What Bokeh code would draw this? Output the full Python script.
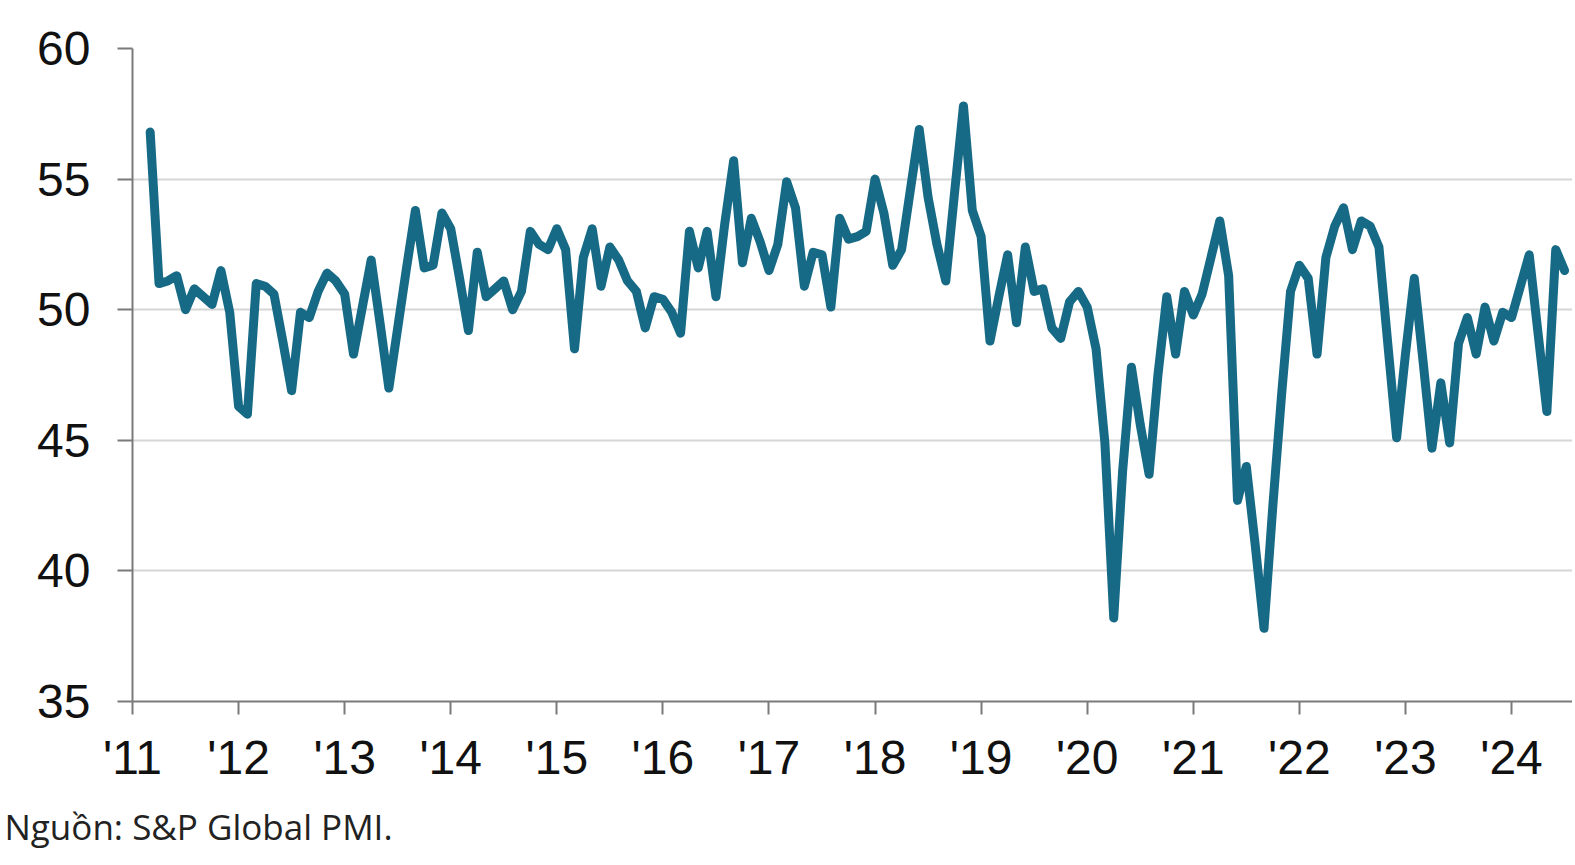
import pandas as pd
from bokeh.plotting import figure
from bokeh.models import FixedTicker, Range1d, Title
from bokeh.embed import file_html
from bokeh.resources import INLINE

# ---- data (monthly index, Mar 2011 .. Jul 2024) ----
start_month = "2011-03"
end_month = "2024-07"
pmi = [
    # 2011 (Mar-Dec)
    56.8, 51.0, 51.1, 51.3, 50.0, 50.8, 50.5, 50.2, 51.5, 49.9,
    # 2012
    46.3, 46.0, 51.0, 50.9, 50.6, 48.8, 46.9, 49.9, 49.7, 50.7, 51.4, 51.1,
    # 2013
    50.6, 48.3, 50.1, 51.9, 49.5, 47.0, 49.3, 51.6, 53.8, 51.6, 51.7, 53.7,
    # 2014
    53.1, 51.2, 49.2, 52.2, 50.5, 50.8, 51.1, 50.0, 50.7, 53.0, 52.5, 52.3,
    # 2015
    53.1, 52.3, 48.5, 52.0, 53.1, 50.9, 52.4, 51.9, 51.1, 50.7, 49.3, 50.5,
    # 2016
    50.4, 49.9, 49.1, 53.0, 51.6, 53.0, 50.5, 53.3, 55.7, 51.8, 53.5, 52.6,
    # 2017
    51.5, 52.5, 54.9, 53.9, 50.9, 52.2, 52.1, 50.1, 53.5, 52.7, 52.8, 53.0,
    # 2018
    55.0, 53.7, 51.7, 52.3, 54.6, 56.9, 54.3, 52.5, 51.1, 54.5, 57.8, 53.8,
    # 2019
    52.8, 48.8, 50.5, 52.1, 49.5, 52.4, 50.7, 50.8, 49.3, 48.9, 50.3, 50.7,
    # 2020
    50.1, 48.5, 44.9, 38.2, 43.8, 47.8, 45.6, 43.7, 47.5, 50.5, 48.3, 50.7,
    # 2021
    49.8, 50.6, 52.0, 53.4, 51.3, 42.7, 44.0, 41.0, 37.8, 42.5, 46.8, 50.7,
    # 2022
    51.7, 51.2, 48.3, 52.0, 53.2, 53.9, 52.3, 53.4, 53.2, 52.4, 48.7, 45.1,
    # 2023
    48.3, 51.2, 48.0, 44.7, 47.2, 44.9, 48.7, 49.7, 48.3, 50.1, 48.8, 49.9,
    # 2024 (Jan-Jul)
    49.7, 50.9, 52.1, 49.1, 46.1, 52.3, 51.5,
]
tick_years = list(range(2011, 2025))
tick_labels = ["'11", "'12", "'13", "'14", "'15", "'16", "'17", "'18",
               "'19", "'20", "'21", "'22", "'23", "'24"]
y_ticks = [35, 40, 45, 50, 55, 60]
source_note = "Nguồn: S&P Global PMI."

months = pd.period_range(start_month, end_month, freq="M")
x = [(m.year - 2011) * 12 + (m.month - 1) for m in months]
x_ticks = [(yr - 2011) * 12 for yr in tick_years]

W, H = 1572, 865
LEFT, TOP, FRAME_H = 132, 48, 653
p = figure(width=W, height=H, output_backend="svg", toolbar_location=None,
           x_range=Range1d(0, (W - LEFT) / 8.84), y_range=Range1d(35, 60),
           min_border_left=LEFT, min_border_right=0,
           min_border_top=TOP, min_border_bottom=H - TOP - FRAME_H)
p.outline_line_color = None
p.background_fill_color = "white"
p.border_fill_color = "white"

p.xgrid.visible = False
p.ygrid.ticker = FixedTicker(ticks=y_ticks)
p.ygrid.grid_line_color = "#d6d6d6"
p.ygrid.grid_line_width = 2

p.xaxis.ticker = FixedTicker(ticks=x_ticks)
p.xaxis.major_label_overrides = {t: l for t, l in zip(x_ticks, tick_labels)}
p.yaxis.ticker = FixedTicker(ticks=y_ticks)

for ax in (p.xaxis[0], p.yaxis[0]):
    ax.axis_line_color = "#7a7a7a"
    ax.axis_line_width = 2
    ax.major_tick_line_color = "#7a7a7a"
    ax.major_tick_line_width = 2
    ax.minor_tick_line_color = None
    ax.major_tick_in = 0
    ax.major_label_text_font = "Liberation Sans"
    ax.major_label_text_font_size = "48px"
    ax.major_label_text_color = "#111111"

p.xaxis.major_tick_out = 13
p.xaxis.major_label_standoff = 16
p.yaxis.major_tick_out = 15
p.yaxis.major_label_standoff = 27

p.line(x, pmi, line_color="#176a85", line_width=9,
       line_join="round", line_cap="round")

note = Title(text=source_note, align="left", offset=-128, standoff=29,
             text_font="Open Sans", text_font_size="35px",
             text_font_style="normal", text_color="#222222")
p.add_layout(note, "below")

open("out.html", "w").write(file_html(p, INLINE))
